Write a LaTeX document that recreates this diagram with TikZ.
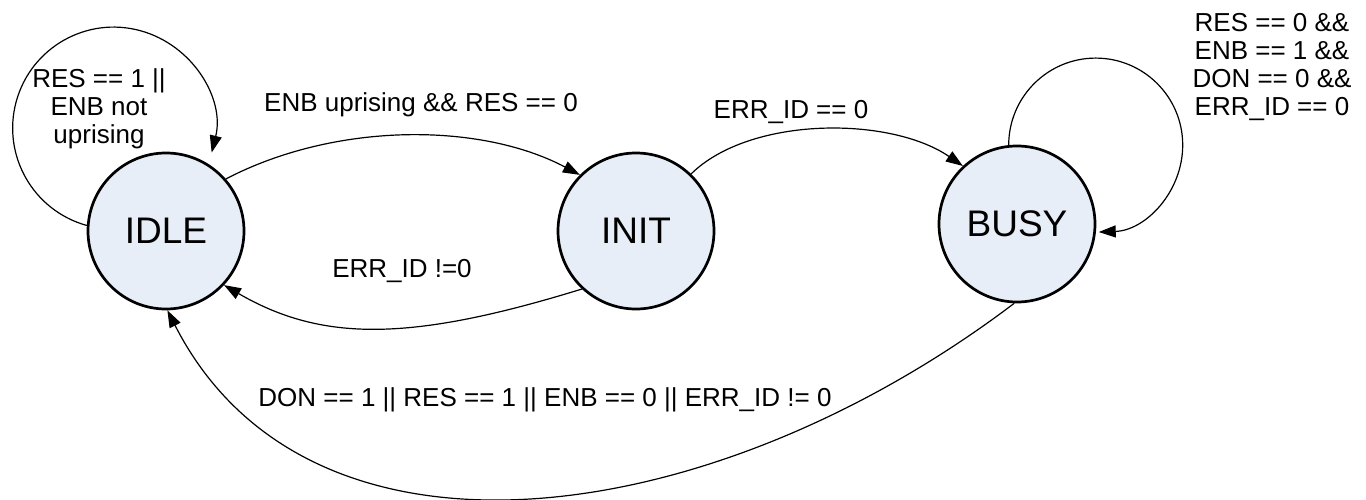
\documentclass[tikz,border=0pt]{standalone}
\usepackage{fontspec}
\setmainfont{Liberation Sans}
\usetikzlibrary{arrows.meta}
\definecolor{stfill}{HTML}{E8EEF7}
\begin{document}
\begin{tikzpicture}[x=1pt,y=1pt,
  state/.style={circle, draw=black, line width=2.7pt, fill=stfill, minimum size=156pt, inner sep=0pt, font=\fontsize{37}{44}\selectfont},
  lbl/.style={font=\fontsize{26}{28}\selectfont, inner sep=0pt, align=center},
  edge/.style={line width=1.2pt, -{Triangle[length=17pt,width=12pt]}}
]
\useasboundingbox (0,0) rectangle (1366,-500);

\node[state] (IDLE) at (166,-231) {IDLE};
\node[state] (INIT) at (636,-231) {INIT};
\node[state] (BUSY) at (1017,-224) {BUSY};

% self loops
\draw[edge] (IDLE.176) arc[start angle=254.6, end angle=-14, radius=101pt];
\draw[edge] (BUSY.96) arc[start angle=180, end angle=-88, radius=87pt];

% transitions
\draw[edge] (IDLE.41) .. controls (335,-122) and (480,-122) .. (INIT.135);
\draw[edge] (INIT.46) .. controls (750,-116) and (890,-116) .. (BUSY.133);
\draw[edge] (INIT.227) .. controls (410,-342) and (322,-342) .. (IDLE.317);
\draw[edge] (BUSY.268) .. controls (711,-533) and (309,-588) .. (IDLE.271);

% labels
\node[lbl] (lIdle) at (99,-109) {RES == 1 ||\\ENB not\\uprising};
\node[lbl] (lBusy) at (1272,-67) {RES == 0 \&\&\\ENB == 1 \&\&\\DON == 0 \&\&\\ERR\_ID == 0};
\node[lbl] (lII) at (421,-105) {ENB uprising \&\& RES == 0};
\node[lbl] (lIB) at (791,-112) {ERR\_ID == 0};
\node[lbl] (lNI) at (402,-271) {ERR\_ID !=0};
\node[lbl] (lBI) at (545,-400) {DON == 1 || RES == 1 || ENB == 0 || ERR\_ID != 0};
\end{tikzpicture}
\end{document}
